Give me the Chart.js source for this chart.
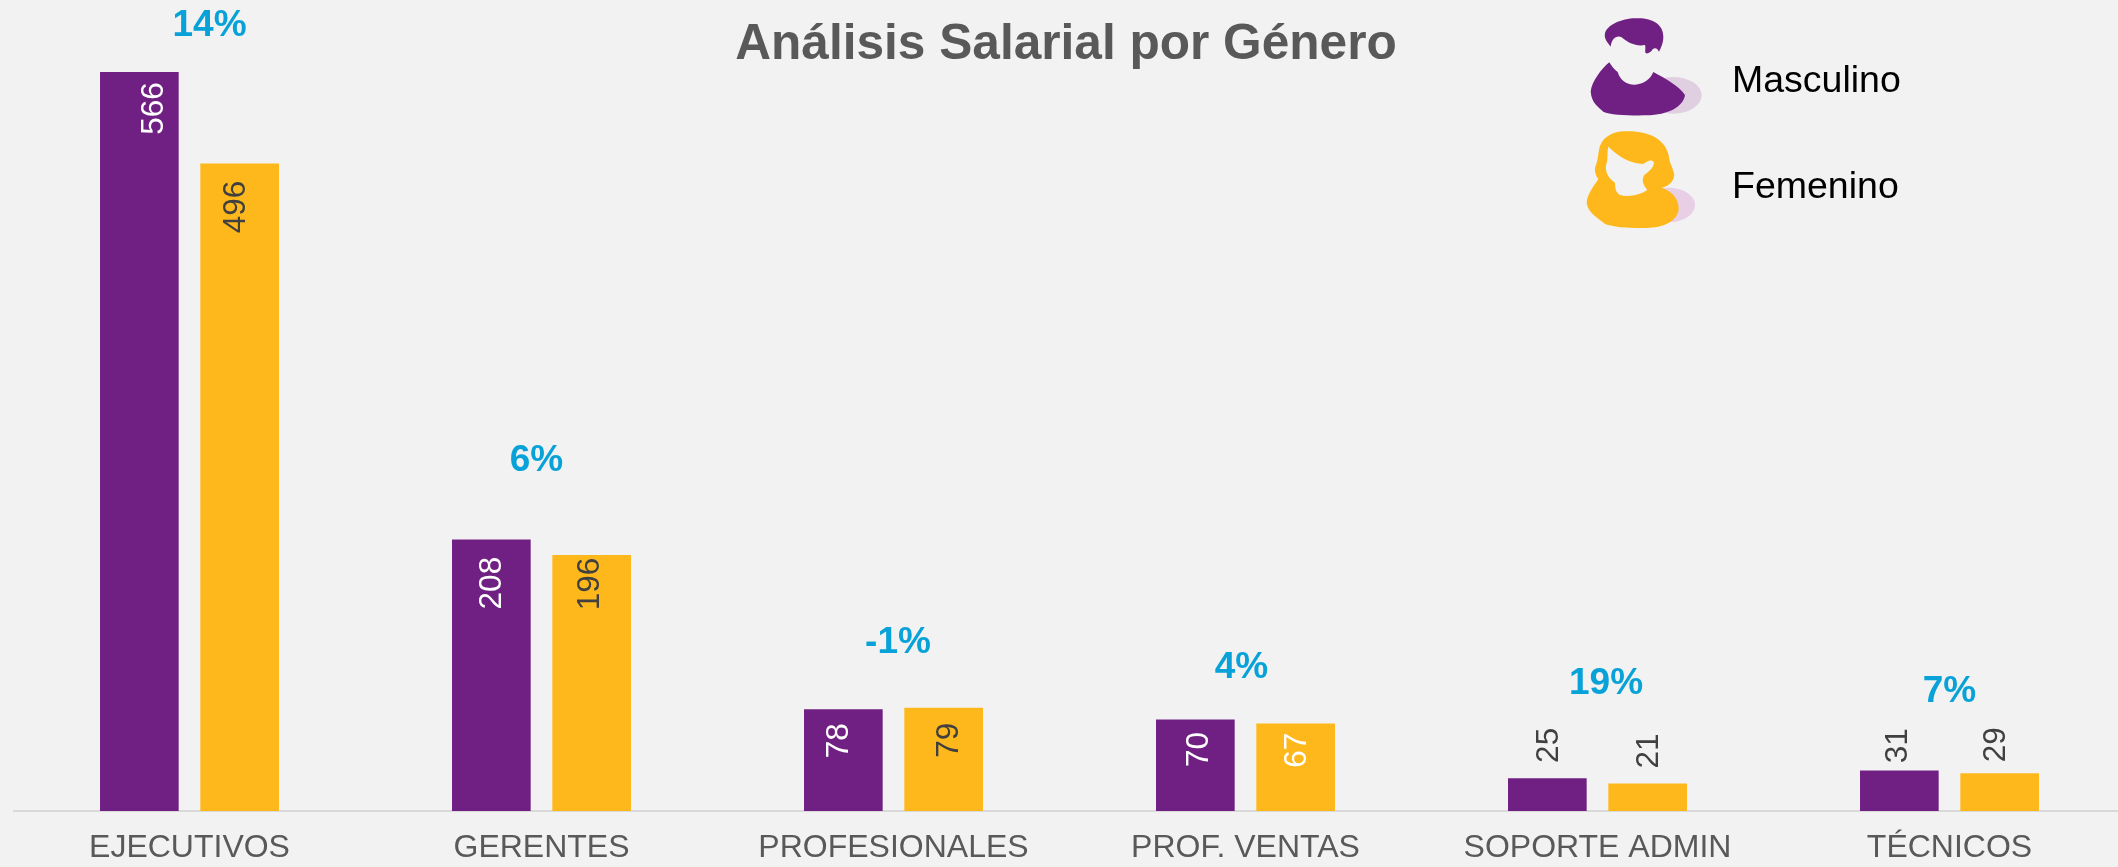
<!DOCTYPE html>
<html lang="es">
<head>
<meta charset="utf-8">
<title>Análisis Salarial por Género</title>
<script src="https://cdn.jsdelivr.net/npm/chart.js@4/dist/chart.umd.min.js"></script>
<style>
html,body{margin:0;padding:0;width:2118px;height:867px;overflow:hidden;background:#f2f2f2}
#wrap{position:absolute;left:0;top:0;width:2118px;height:867px;overflow:hidden}
canvas{display:block}
</style>
</head>
<body>
<div id="wrap"><canvas id="c" width="2140" height="867" style="width:2140px;height:867px"></canvas></div>
<script>
const titleText = 'Análisis Salarial por Género';
const categories = ['EJECUTIVOS','GERENTES','PROFESIONALES','PROF. VENTAS','SOPORTE ADMIN','TÉCNICOS'];
const seriesNames = ['Masculino','Femenino'];
const masculino = [566,208,78,70,25,31];
const femenino  = [496,196,79,67,21,29];
const brecha    = [14,6,-1,4,19,7];

// Placement of the annotations relative to the bars (pixels)
const maleNudgeX   = [15,1.2,-4.3,3.7,2.1,-1.1];
const maleNudgeY   = [36.5,43.7,31.5,30,-33,-24.7];
const femaleNudgeX = [-3.8,-1.3,6.1,1.9,1.7,-3.8];
const femaleNudgeY = [43.5,29,32.3,26.7,-32.5,-28.5];
const maleInk      = ['#ffffff','#ffffff','#ffffff','#ffffff','#404040','#404040'];
const femaleInk    = ['#404040','#404040','#404040','#ffffff','#404040','#404040'];
const gapNudgeX    = [20,-5,4.5,-4,8.5,0];
const gapRise      = [46,79,64.7,52,95,78.7];

const PURPLE='#702082', GOLD='#FFB81C', BG='#f2f2f2', BLUE='#08A2D8', FONT='"Liberation Sans", Arial, sans-serif';

const malePaths = {
  shadow:[400,286,85,55,'#e0cfe0'],
  hair:'M195,100 C200,75 250,52 295,55 C340,55 370,75 370,110 C370,130 362,145 357,155 C352,145 345,142 338,148 C335,155 325,162 318,160 C313,155 318,145 315,135 C290,140 265,130 245,112 C230,105 215,115 212,140 C200,125 192,115 195,100 Z',
  body:'M208,187 C215,200 225,210 233,216 C240,240 260,255 285,254 C310,252 330,240 340,216 C375,235 420,260 435,285 C430,320 385,345 320,346 C270,347 210,345 190,335 C175,320 155,310 152,275 C155,245 185,205 208,187 Z'
};
const femalePaths = {
  shadow:[385,615,80,52,'#e8cfe6'],
  body:'M250,394 C330,390 375,420 386,465 C388,490 400,505 403,525 C400,550 380,560 365,563 C400,575 418,600 416,630 C410,665 370,683 320,684 C270,685 220,682 195,672 C175,655 145,640 140,610 C140,585 160,560 175,537 C165,525 162,505 168,495 C178,470 172,440 190,420 C205,405 225,395 250,394 Z',
  face:'M205,440 C235,470 270,490 310,492 C320,485 335,475 342,488 C340,505 325,515 315,523 C305,535 305,550 322,570 C300,585 265,592 240,585 C228,578 225,565 225,548 C205,535 195,515 198,495 C205,480 200,460 205,440 Z'
};

function vText(ctx,txt,x,y,color){
  ctx.save();
  ctx.translate(x,y);
  ctx.rotate(-Math.PI/2);
  ctx.fillStyle=color;
  ctx.font='31.5px '+FONT;
  ctx.textAlign='center';
  ctx.textBaseline='middle';
  ctx.fillText(txt,0,0);
  ctx.restore();
}

const annotations = {
  id:'annotations',
  afterDatasetsDraw(chart){
    const ctx=chart.ctx, m0=chart.getDatasetMeta(0), m1=chart.getDatasetMeta(1), x=chart.scales.x;
    categories.forEach((_,i)=>{
      const a=m0.data[i], b=m1.data[i];
      vText(ctx,String(masculino[i]),a.x+maleNudgeX[i],a.y+maleNudgeY[i],maleInk[i]);
      vText(ctx,String(femenino[i]),b.x+femaleNudgeX[i],b.y+femaleNudgeY[i],femaleInk[i]);
      ctx.save();
      ctx.fillStyle=BLUE;
      ctx.font='bold 37px '+FONT;
      ctx.textAlign='center';
      ctx.textBaseline='middle';
      ctx.fillText(brecha[i]+'%',x.getPixelForValue(i)+gapNudgeX[i],Math.min(a.y,b.y)-gapRise[i]);
      ctx.restore();
    });
    ctx.save();
    ctx.fillStyle='#595959';
    ctx.font='bold 49.6px '+FONT;
    ctx.textAlign='center';
    ctx.textBaseline='alphabetic';
    ctx.fillText(titleText,1066,59);
    ctx.fillStyle='#000000';
    ctx.font='37.5px '+FONT;
    ctx.textAlign='left';
    ctx.fillText(seriesNames[0],1732,91.7);
    ctx.fillText(seriesNames[1],1732,198.3);
    // legend icons
    ctx.translate(1540,0);
    ctx.scale(1/3,1/3);
    [malePaths,femalePaths].forEach((p,k)=>{
      const s=p.shadow;
      ctx.fillStyle=s[4];
      ctx.beginPath();ctx.ellipse(s[0],s[1],s[2],s[3],0,0,Math.PI*2);ctx.fill();
      ctx.fillStyle=k?GOLD:PURPLE;
      ctx.fill(new Path2D(p.body));
      if(p.hair) ctx.fill(new Path2D(p.hair));
      if(p.face){ctx.fillStyle=BG;ctx.fill(new Path2D(p.face));}
    });
    ctx.restore();
  }
};

new Chart(document.getElementById('c'),{
  type:'bar',
  data:{
    labels:categories,
    datasets:[
      {label:seriesNames[0],data:masculino,backgroundColor:PURPLE},
      {label:seriesNames[1],data:femenino,backgroundColor:GOLD}
    ]
  },
  options:{
    responsive:false,
    animation:false,
    events:[],
    categoryPercentage:0.57,
    barPercentage:0.784,
    layout:{padding:{left:13.5,right:14.5,top:27.6,bottom:0}},
    plugins:{legend:{display:false},title:{display:false},tooltip:{enabled:false}},
    scales:{
      y:{display:false,min:0,max:600},
      x:{
        afterFit(s){s.height=56;},
        grid:{display:false,drawTicks:false},
        border:{display:true,color:'#d9d9d9',width:2},
        ticks:{color:'#595959',font:{family:FONT,size:32},padding:18,maxRotation:0,autoSkip:false}
      }
    }
  },
  plugins:[annotations]
});
</script>
</body>
</html>
